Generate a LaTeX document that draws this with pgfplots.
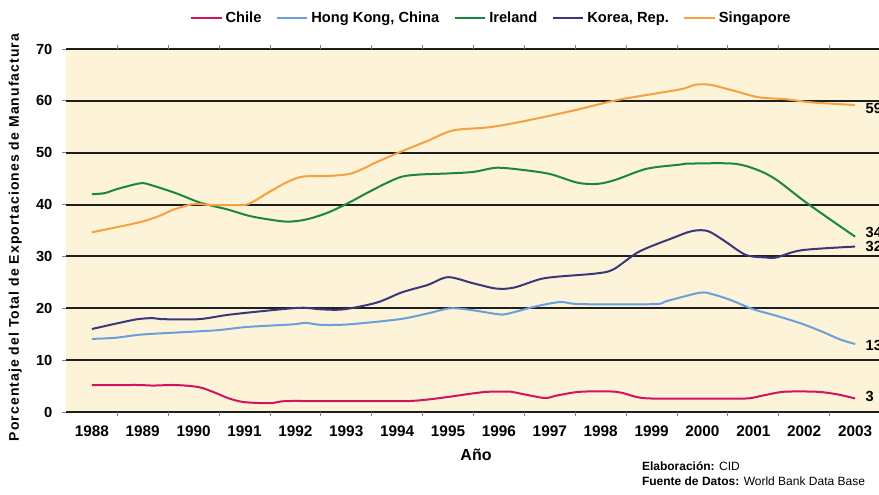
\documentclass[border=0pt]{standalone}
\usepackage{pgfplots}
\pgfplotsset{compat=1.18}
\usepackage{fontspec}
\setmainfont{Liberation Sans}
\newfontfamily\ylabfont[LetterSpace=7.5]{Liberation Sans}
\definecolor{cream}{RGB}{253,243,216}
\definecolor{cChile}{RGB}{208,20,95}
\definecolor{cHK}{RGB}{105,160,220}
\definecolor{cIre}{RGB}{25,135,60}
\definecolor{cKor}{RGB}{58,56,122}
\definecolor{cSin}{RGB}{247,160,65}
\definecolor{gridc}{RGB}{30,30,30}
\begin{document}
\begin{tikzpicture}
\useasboundingbox (0,0) rectangle (659.25pt,371.25pt);
\begin{axis}[
  at={(49.8pt,62.25pt)}, anchor=south west,
  scale only axis, width=610.65pt, height=272.25pt,
  xmin=1987.5, xmax=2003.5, ymin=0, ymax=70,
  axis line style={draw=none},
  axis background/.style={fill=cream},
  ytick={0,10,...,70},
  xtick={1988.5,1989.5,...,2002.5},
  xticklabels={},
  extra x ticks={1988,1989,...,2003},
  extra x tick style={major tick length=0pt, grid=none},
  ymajorgrids, major grid style={draw=gridc, line width=1.5pt},
  tick align=outside, major tick length=3pt,
  tick style={draw=gray, line width=0.6pt},
  /pgf/number format/1000 sep={},
  /pgf/number format/assume math mode=true,
  xticklabel style={font=\bfseries\fontsize{11.5}{13}\selectfont, yshift=-7pt},
  yticklabel style={font=\bfseries\fontsize{11}{13}\selectfont, xshift=-4pt},
  legend style={at={(0.522,1.085)}, anchor=center, draw=none, fill=none,
    font=\bfseries\fontsize{11}{13}\selectfont, legend columns=5,
    /tikz/every even column/.append style={column sep=8.5pt}},
  legend image code/.code={\draw[#1, line width=2pt] (0pt,0pt) -- (23pt,0pt);},
  every axis plot/.append style={line width=1.5pt, smooth},
  clip=false,
]
\addplot[cChile] coordinates {(1988,5.2)(1988.5,5.2)(1988.95,5.2)(1989.2,5.1)(1989.65,5.2)(1990.1,4.8)(1990.4,3.8)(1990.7,2.6)(1991.0,1.9)(1991.5,1.7)(1991.8,2.1)(1992.5,2.1)(1993.5,2.1)(1994.2,2.1)(1994.6,2.4)(1995.0,2.9)(1995.5,3.6)(1995.8,3.9)(1996.25,3.9)(1996.45,3.5)(1996.9,2.7)(1997.15,3.2)(1997.6,3.9)(1998.3,3.9)(1998.7,2.9)(1999.0,2.6)(2000,2.6)(2000.85,2.6)(2001.2,3.2)(2001.6,3.9)(2002.25,3.9)(2002.65,3.4)(2003,2.6)};
\addlegendentry{Chile}
\addplot[cHK] coordinates {(1988,14.1)(1988.45,14.3)(1989,14.95)(1990,15.5)(1990.5,15.8)(1991.05,16.4)(1991.95,16.9)(1992.2,17.2)(1992.5,16.8)(1993.05,16.9)(1994.05,17.9)(1994.6,19.0)(1995.05,20.0)(1995.5,19.6)(1995.95,18.9)(1996.15,18.9)(1996.7,20.3)(1997.2,21.2)(1997.6,20.8)(1999.05,20.8)(1999.3,21.4)(1999.95,23.0)(2000.2,22.7)(2000.55,21.6)(2001.0,19.8)(2001.4,18.7)(2001.9,17.2)(2002.35,15.5)(2002.7,14.0)(2003,13.1)};
\addlegendentry{Hong Kong, China}
\addplot[cIre] coordinates {(1988,42.0)(1988.25,42.2)(1988.5,43.0)(1988.95,44.1)(1989.15,43.8)(1989.65,42.2)(1990.15,40.3)(1990.65,39.1)(1991.1,37.8)(1991.5,37.1)(1991.85,36.7)(1992.2,37.1)(1992.6,38.3)(1993.0,40.1)(1993.4,42.2)(1993.8,44.2)(1994.1,45.4)(1994.45,45.8)(1995.0,46.0)(1995.5,46.3)(1995.95,47.1)(1996.45,46.7)(1997.0,45.9)(1997.55,44.2)(1997.95,44.0)(1998.3,44.8)(1998.9,46.9)(1999.55,47.7)(1999.75,47.9)(2000.6,47.9)(2001.05,46.8)(2001.45,44.8)(2002.05,40.3)(2003,33.8)};
\addlegendentry{Ireland}
\addplot[cKor] coordinates {(1988,16.0)(1988.5,17.1)(1988.9,17.9)(1989.2,18.1)(1989.4,17.9)(1990.1,17.9)(1990.65,18.7)(1991.3,19.4)(1992.1,20.1)(1992.5,19.8)(1992.95,19.8)(1993.6,21.1)(1994.1,23.1)(1994.6,24.5)(1995.0,26.0)(1995.5,24.8)(1995.95,23.8)(1996.3,24.0)(1996.8,25.6)(1997.15,26.1)(1997.9,26.7)(1998.25,27.5)(1998.75,30.9)(1999.4,33.5)(1999.8,34.9)(2000.1,34.9)(2000.4,33.2)(2000.85,30.3)(2001.25,29.8)(2001.45,29.8)(2001.95,31.2)(2003,31.9)};
\addlegendentry{Korea, Rep.}
\addplot[cSin] coordinates {(1988,34.65)(1988.9,36.5)(1989.3,37.7)(1989.6,39.0)(1990.0,40.1)(1990.35,39.9)(1990.9,39.9)(1991.1,40.2)(1991.5,42.5)(1991.85,44.4)(1992.15,45.4)(1992.6,45.5)(1993.1,46.0)(1993.6,48.2)(1994.0,49.9)(1994.6,52.3)(1995.1,54.3)(1995.8,54.9)(1996.45,56.0)(1997.45,58.1)(1998.35,60.2)(1999.55,62.2)(1999.85,63.1)(2000.15,63.1)(2000.6,62.0)(2001.1,60.7)(2001.65,60.3)(2002.15,59.7)(2003,59.2)};
\addlegendentry{Singapore}
\node[anchor=west, font=\bfseries\fontsize{11}{13}\selectfont, inner sep=0pt] at (axis cs:2003.2,58.6) {59};
\node[anchor=west, font=\bfseries\fontsize{11}{13}\selectfont, inner sep=0pt] at (axis cs:2003.2,34.7) {34};
\node[anchor=west, font=\bfseries\fontsize{11}{13}\selectfont, inner sep=0pt] at (axis cs:2003.2,32.0) {32};
\node[anchor=west, font=\bfseries\fontsize{11}{13}\selectfont, inner sep=0pt] at (axis cs:2003.2,12.9) {13};
\node[anchor=west, font=\bfseries\fontsize{11}{13}\selectfont, inner sep=0pt] at (axis cs:2003.2,3.0) {3};
\end{axis}
\node[rotate=90, font=\ylabfont\bfseries\fontsize{10.5}{12}\selectfont] at (11.5pt,193.1pt) {Porcentaje del Total de Exportaciones de Manufactura};
\node[font=\bfseries\fontsize{12}{14}\selectfont] at (357pt,30pt) {Año};
\node[anchor=west, font=\fontsize{9}{10}\selectfont, inner sep=0pt] at (481.3pt,21.75pt) {\textbf{Elaboración:} CID};
\node[anchor=west, font=\fontsize{9}{10}\selectfont, inner sep=0pt] at (481.3pt,10.5pt) {\textbf{Fuente de Datos:} World Bank Data Base};
\end{tikzpicture}
\end{document}
